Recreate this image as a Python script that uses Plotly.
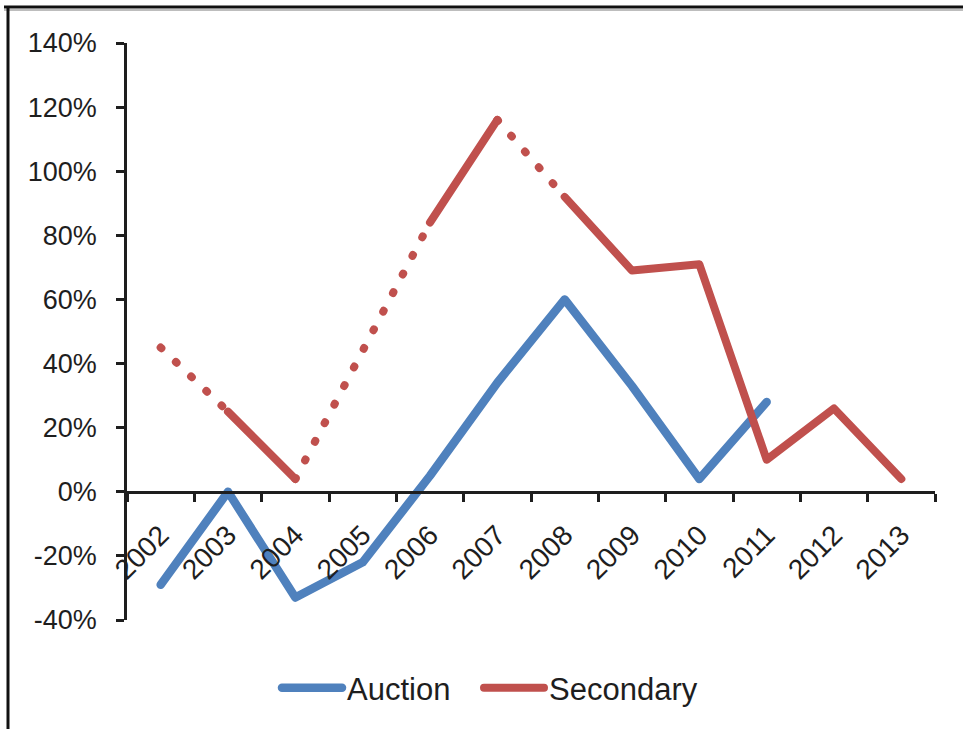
import plotly.graph_objects as go

# ---- data -------------------------------------------------------------
years = ["2002", "2003", "2004", "2005", "2006", "2007",
         "2008", "2009", "2010", "2011", "2012", "2013"]
auction = [-29, 0, -33, -22, 5, 34, 60, 33, 4, 28, None, None]
secondary = [45, 25, 4, 44, 84, 116, 92, 69, 71, 10, 26, 4]
# line style of each Secondary segment (between consecutive years)
secondary_segment_style = ["dot", "solid", "dot", "dot", "solid", "dot",
                           "solid", "solid", "solid", "solid", "solid"]
y_ticks = [-40, -20, 0, 20, 40, 60, 80, 100, 120, 140]
y_tick_labels = ["-40%", "-20%", "0%", "20%", "40%", "60%",
                 "80%", "100%", "120%", "140%"]

# ---- page geometry ----------------------------------------------------
W, H = 963, 729
ML, MR, MT, MB = 127, 28, 43, 109
PW, PH = W - ML - MR, H - MT - MB

BLUE = "#4F81BD"
RED = "#C0504D"
INK = "#1e1e1e"
FONT = "Liberation Sans, Arial, sans-serif"


def split_segments(xs, ys, styles, wanted):
    """Collect the segments of one style into a single gapped polyline."""
    sx, sy = [], []
    for i, st in enumerate(styles):
        if st != wanted:
            continue
        if sx and sx[-1] == xs[i]:
            sx.append(xs[i + 1]); sy.append(ys[i + 1])
        else:
            if sx:
                sx.append(None); sy.append(None)
            sx += [xs[i], xs[i + 1]]; sy += [ys[i], ys[i + 1]]
    return sx, sy


fig = go.Figure()

fig.add_trace(go.Scatter(
    x=years, y=auction, mode="lines", name="Auction", legend="legend",
    line=dict(color=BLUE, width=8.5), connectgaps=False,
))

sol_x, sol_y = split_segments(years, secondary, secondary_segment_style, "solid")
dot_x, dot_y = split_segments(years, secondary, secondary_segment_style, "dot")

fig.add_trace(go.Scatter(
    x=dot_x, y=dot_y, mode="lines", showlegend=False, hoverinfo="skip",
    line=dict(color=RED, width=8, dash="1px,20px"),
))
fig.add_trace(go.Scatter(
    x=sol_x, y=sol_y, mode="lines", name="Secondary", legend="legend2",
    line=dict(color=RED, width=8),
))

# outer frame (left and top edges)
def px_x(p):
    return (p - ML) / PW


def px_y(p):
    return 1 - (p - MT) / PH


fig.add_shape(type="line", xref="paper", yref="paper",
              x0=px_x(4), x1=px_x(W + 5), y0=px_y(10), y1=px_y(10),
              line=dict(color="#bdbdbd", width=2))
fig.add_shape(type="line", xref="paper", yref="paper",
              x0=px_x(4), x1=px_x(W + 5), y0=px_y(7), y1=px_y(7),
              line=dict(color="#111111", width=3))
fig.add_shape(type="line", xref="paper", yref="paper",
              x0=px_x(8), x1=px_x(8), y0=px_y(6), y1=px_y(H + 5),
              line=dict(color="#111111", width=3))

legend_style = dict(
    orientation="h", xref="container", yref="container",
    y=1 - 688 / H, xanchor="left", yanchor="middle",
    font=dict(size=31, color=INK, family=FONT),
    itemwidth=60, bgcolor="rgba(0,0,0,0)",
)

fig.update_layout(
    width=W, height=H,
    margin=dict(l=ML, r=MR, t=MT, b=MB, autoexpand=False),
    paper_bgcolor="white", plot_bgcolor="white",
    font=dict(family=FONT, color=INK),
    xaxis=dict(
        type="category", range=[-0.5, len(years) - 0.5],
        anchor="free", position=(0 - y_ticks[0]) / (y_ticks[-1] - y_ticks[0]),
        showline=True, linecolor=INK, linewidth=2.5,
        ticks="outside", ticklen=8, tickwidth=2.5, tickcolor=INK,
        tickson="boundaries", tickangle=-45, automargin=False,
        ticklabelstandoff=14,
        tickfont=dict(size=28, color=INK, family=FONT),
        showgrid=False, zeroline=False,
    ),
    yaxis=dict(
        range=[y_ticks[0], y_ticks[-1]],
        tickmode="array", tickvals=y_ticks, ticktext=y_tick_labels,
        showline=True, linecolor=INK, linewidth=2.5,
        ticks="outside", ticklen=8, tickwidth=2.5, tickcolor=INK,
        ticklabelstandoff=14, automargin=False,
        tickfont=dict(size=27, color=INK, family=FONT),
        showgrid=False, zeroline=False,
    ),
    legend=dict(x=277 / W, **legend_style),
    legend2=dict(x=479 / W, **legend_style),
)

round_caps = (
    "var s=document.createElement('style');"
    "s.textContent='.js-line{stroke-linecap:round;stroke-linejoin:round;}';"
    "document.head.appendChild(s);"
)

fig.write_html("out.html", post_script=round_caps)
